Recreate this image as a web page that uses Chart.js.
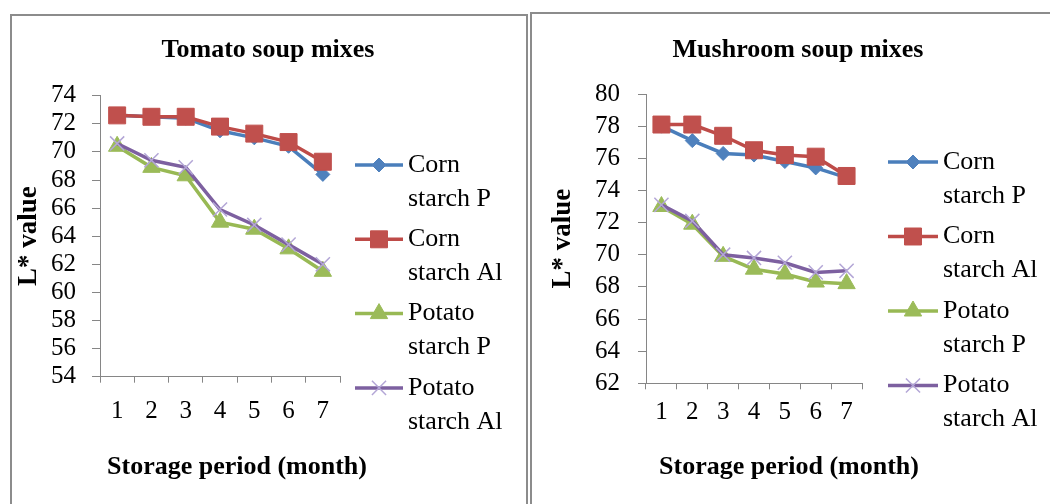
<!DOCTYPE html>
<html>
<head>
<meta charset="utf-8">
<script src="https://cdn.jsdelivr.net/npm/chart.js@4/dist/chart.umd.min.js"></script>
<style>
  html, body { margin: 0; padding: 0; background: #fff; overflow: hidden; width: 1050px; height: 504px; }
  .panel { position: absolute; box-sizing: border-box; border: 2px solid #8c8c8c; height: 620px; background: #fff; }
  canvas { position: absolute; top: 0; }
</style>
</head>
<body>
<div class="panel" style="left:10px; top:14px; width:518px;"></div>
<div class="panel" style="left:530px; top:12px; width:540px;"></div>
<canvas id="tomato" width="528" height="504" style="left:0px; width:528px; height:504px;"></canvas>
<canvas id="mushroom" width="522" height="504" style="left:528px; width:522px; height:504px;"></canvas>
<script>
// ---- data ----
const months = ['1', '2', '3', '4', '5', '6', '7'];
const seriesNames = ['Corn starch P', 'Corn starch Al', 'Potato starch P', 'Potato starch Al'];

const tomatoCornP    = [72.6, 72.5, 72.4, 71.5, 71.0, 70.4, 68.4];
const tomatoCornAl   = [72.6, 72.5, 72.5, 71.8, 71.3, 70.7, 69.3];
const tomatoPotatoP  = [70.4, 68.9, 68.3, 65.0, 64.5, 63.1, 61.5];
const tomatoPotatoAl = [70.6, 69.4, 68.9, 65.9, 64.8, 63.4, 62.0];

const mushroomCornP    = [78.0, 77.1, 76.3, 76.2, 75.8, 75.4, 74.8];
const mushroomCornAl   = [78.1, 78.1, 77.4, 76.5, 76.2, 76.1, 74.9];
const mushroomPotatoP  = [73.0, 71.9, 69.9, 69.1, 68.8, 68.3, 68.2];
const mushroomPotatoAl = [73.1, 72.1, 70.0, 69.8, 69.5, 68.9, 69.0];

const tomatoTicks = { min: 54, max: 74, step: 2 };
const mushroomTicks = { min: 62, max: 80, step: 2 };

const chartTitles = ['Tomato soup mixes', 'Mushroom soup mixes'];
const xAxisTitle = 'Storage period (month)';
const yAxisTitle = 'L* value';

// ---- styles ----
const FONT = '"Liberation Serif", "Times New Roman", serif';
Chart.defaults.font.family = FONT;
Chart.defaults.color = '#000';

const styles = [
  { line: '#4A7EBB', fill: '#4F81BD', border: '#4F81BD', pointStyle: 'rectRot', radius: 7, pbw: 1 },
  { line: '#BE4B48', fill: '#C0504D', border: '#C0504D', pointStyle: 'rect', radius: 12, pbw: 1 },
  { line: '#98B954', fill: '#9BBB59', border: '#9BBB59', pointStyle: 'triangle', radius: 10, pbw: 1 },
  { line: '#7D60A0', fill: '#B3A6D6', border: '#B3A6D6', pointStyle: 'crossRot', radius: 10, pbw: 1.5 }
];

function drawMarker(ctx, st, x, y) {
  ctx.save();
  ctx.fillStyle = st.fill;
  ctx.strokeStyle = st.border;
  ctx.lineWidth = st.pbw;
  if (Chart.helpers && Chart.helpers.drawPoint) {
    Chart.helpers.drawPoint(ctx, { pointStyle: st.pointStyle, radius: st.radius, borderWidth: st.pbw, rotation: 0 }, x, y);
  }
  ctx.restore();
}

const panelText = {
  id: 'panelText',
  afterDraw(chart, args, o) {
    const ctx = chart.ctx;
    ctx.save();
    ctx.fillStyle = '#000';
    ctx.textBaseline = 'middle';
    ctx.textAlign = 'center';
    ctx.font = 'bold 26px ' + FONT;
    ctx.fillText(o.title, o.titleX, o.titleY);
    ctx.font = 'bold 26px ' + FONT;
    ctx.fillText(xAxisTitle, o.xTitleX, o.xTitleY);
    // legend
    seriesNames.forEach((name, i) => {
      const st = styles[i];
      const y = o.legendY + i * o.legendStep;
      ctx.strokeStyle = st.line;
      ctx.lineWidth = 3.5;
      ctx.beginPath();
      ctx.moveTo(o.legendX, y);
      ctx.lineTo(o.legendX + o.legendLen, y);
      ctx.stroke();
      drawMarker(ctx, st, o.legendX + o.legendLen / 2, y);
      const sp = name.indexOf(' ');
      const lines = [name.slice(0, sp), name.slice(sp + 1)];
      ctx.fillStyle = '#000';
      ctx.textAlign = 'left';
      ctx.font = '26px ' + FONT;
      lines.forEach((t, k) => ctx.fillText(t, o.legendX + o.legendLen + 5, y + k * 34));
    });
    ctx.restore();
  }
};

function makeChart(id, series, ticks, cfg) {
  const datasets = series.map((vals, i) => ({
    label: seriesNames[i],
    data: vals,
    borderColor: styles[i].line,
    borderWidth: 3.5,
    backgroundColor: styles[i].fill,
    pointStyle: styles[i].pointStyle,
    pointRadius: styles[i].radius,
    pointHoverRadius: styles[i].radius,
    pointBackgroundColor: styles[i].fill,
    pointBorderColor: styles[i].border,
    pointBorderWidth: styles[i].pbw,
    tension: 0,
    fill: false,
    order: series.length - 1 - i
  }));
  return new Chart(document.getElementById(id), {
    type: 'line',
    data: { labels: months, datasets },
    options: {
      responsive: false,
      animation: false,
      events: [],
      layout: { padding: { left: 0, top: cfg.top, right: cfg.right, bottom: 0 } },
      plugins: {
        legend: { display: false },
        title: { display: false },
        tooltip: { enabled: false },
        panelText: cfg.text
      },
      scales: {
        x: {
          type: 'category',
          offset: true,
          grid: { offset: true, drawOnChartArea: false, tickLength: 6, color: '#868686', lineWidth: 1 },
          border: { display: true, color: '#868686', width: 1 },
          ticks: { font: { size: 25 }, color: '#000', padding: cfg.xPad, maxRotation: 0 },
          afterFit: s => { s.height = cfg.xHeight; }
        },
        y: {
          min: ticks.min,
          max: ticks.max,
          grid: { drawOnChartArea: false, tickLength: 8, color: '#868686', lineWidth: 1 },
          border: { display: true, color: '#868686', width: 1 },
          ticks: { stepSize: ticks.step, font: { size: 25 }, color: '#000', padding: cfg.yPad, autoSkip: false },
          title: { display: true, text: yAxisTitle, font: { size: 27, weight: 'bold' }, color: '#000', padding: { top: cfg.yTitlePad, bottom: 0 } },
          afterFit: s => { s.width = cfg.yWidth; }
        }
      }
    },
    plugins: [panelText]
  });
}

makeChart('tomato', [tomatoCornP, tomatoCornAl, tomatoPotatoP, tomatoPotatoAl], tomatoTicks, {
  top: 95.7, right: 188, xHeight: 127.3, yWidth: 100, xPad: 14, yPad: 16, yTitlePad: 13,
  text: { title: chartTitles[0], titleX: 268, titleY: 50, xTitleX: 237, xTitleY: 467,
          legendX: 355, legendLen: 48, legendY: 165, legendStep: 74.3 }
});

makeChart('mushroom', [mushroomCornP, mushroomCornAl, mushroomPotatoP, mushroomPotatoAl], mushroomTicks, {
  top: 94, right: 188, xHeight: 120.7, yWidth: 118, xPad: 8, yPad: 18, yTitlePad: 19,
  text: { title: chartTitles[1], titleX: 270, titleY: 50, xTitleX: 261, xTitleY: 467,
          legendX: 360, legendLen: 50, legendY: 162, legendStep: 74.5 }
});
</script>
</body>
</html>
